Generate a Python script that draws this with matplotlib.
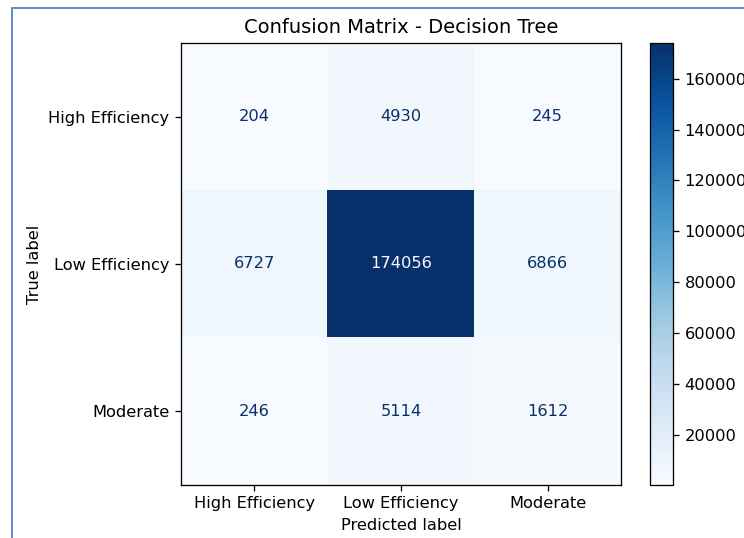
import matplotlib
matplotlib.use('Agg')
import matplotlib.pyplot as plt
import numpy as np
from matplotlib.patches import Rectangle

# confusion matrix data
labels = ['High Efficiency', 'Low Efficiency', 'Moderate']
row_high = [204, 4930, 245]
row_low = [6727, 174056, 6866]
row_mod = [246, 5114, 1612]

cm = np.array([row_high, row_low, row_mod])

W, H, DPI = 744, 538, 117
fig = plt.figure(figsize=(W / DPI, H / DPI), dpi=DPI)

# notebook cell frame (blue line left and top)
fig.patches.append(Rectangle((11.5 / W, -0.1), 1.2, 1.1 - 8.5 / H,
                             transform=fig.transFigure, fill=False,
                             edgecolor='#4a85c6', linewidth=1.1))

ax = fig.add_axes([181 / W, 53 / H, 440 / W, 442 / H])
cax = fig.add_axes([650 / W, 53 / H, 23 / W, 442 / H])

im = ax.imshow(cm, cmap='Blues', interpolation='nearest', aspect='auto')
cbar = fig.colorbar(im, cax=cax)

cmap_min, cmap_max = im.cmap(0), im.cmap(1.0)
thresh = (cm.max() + cm.min()) / 2.0
for i in range(cm.shape[0]):
    for j in range(cm.shape[1]):
        color = cmap_max if cm[i, j] < thresh else cmap_min
        ax.text(j, i, format(cm[i, j], 'd'), ha='center', va='center', color=color)

ax.set_xticks(np.arange(3))
ax.set_yticks(np.arange(3))
ax.set_xticklabels(labels)
ax.set_yticklabels(labels)
ax.set_xlabel('Predicted label')
ax.set_ylabel('True label')
ax.set_title('Confusion Matrix - Decision Tree')

fig.savefig('out.png', dpi=DPI)
